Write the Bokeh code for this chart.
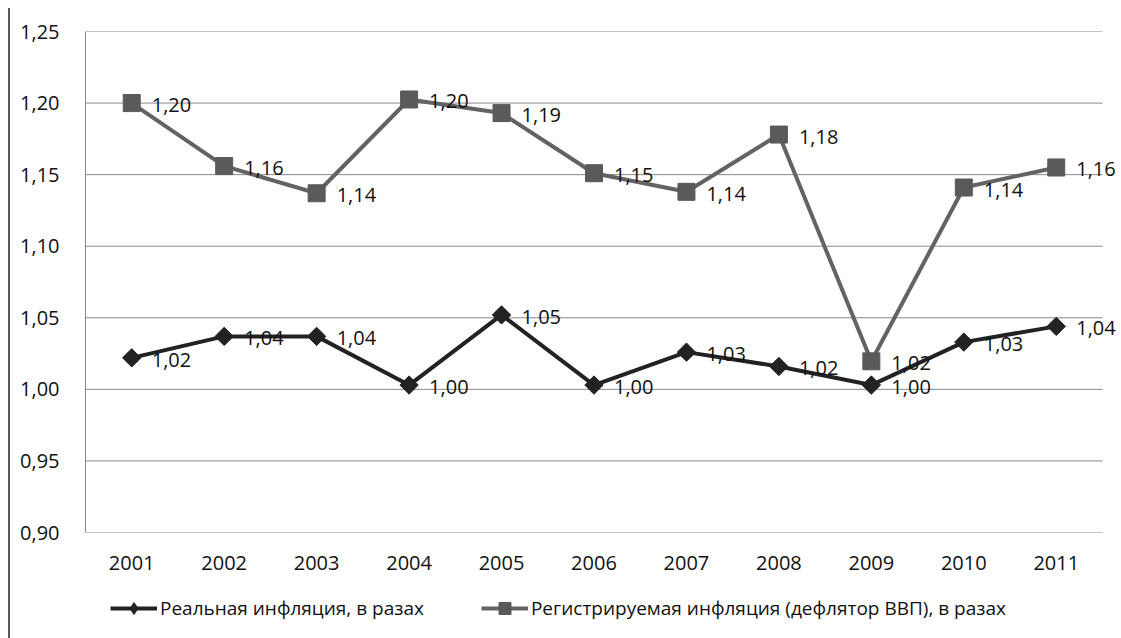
from bokeh.plotting import figure
from bokeh.layouts import column
from bokeh.models import (Range1d, FixedTicker, CustomJSTickFormatter,
                          Legend, LegendItem, ColumnDataSource, LabelSet)
from bokeh.core.properties import value
from bokeh.embed import file_html
from bokeh.resources import INLINE
import math

years = ["2001", "2002", "2003", "2004", "2005", "2006", "2007", "2008", "2009", "2010", "2011"]
real_inflation = [1.022, 1.037, 1.037, 1.003, 1.052, 1.003, 1.026, 1.016, 1.003, 1.033, 1.044]
registered_inflation = [1.200, 1.156, 1.137, 1.2025, 1.193, 1.151, 1.138, 1.178, 1.0196, 1.141, 1.155]
y_ticks = [0.90, 0.95, 1.00, 1.05, 1.10, 1.15, 1.20, 1.25]
series_names = ["Реальная инфляция, в разах", "Регистрируемая инфляция (дефлятор ВВП), в разах"]

FONT = "Open Sans"
GRID = "#888888"
REAL_C = "#222222"
REG_LINE = "#636363"
REG_MARK = "#5a5a5a"

def fmt(v):
    return ("%.2f" % v).replace(".", ",")

xs = list(range(len(years)))
src_real = ColumnDataSource(dict(x=xs, y=real_inflation, lbl=[fmt(v) for v in real_inflation]))
src_reg = ColumnDataSource(dict(x=xs, y=registered_inflation, lbl=[fmt(v) for v in registered_inflation]))

x_lo, x_hi = -0.5, len(years) - 0.5
p = figure(width=1109, height=574, x_range=Range1d(x_lo, x_hi + 0.184),
           y_range=Range1d(y_ticks[0], y_ticks[-1]),
           output_backend="svg", toolbar_location=None,
           min_border_left=75, min_border_right=0, min_border_top=23, min_border_bottom=50)
p.outline_line_color = None
p.background_fill_color = "white"
p.border_fill_color = "white"

p.yaxis.ticker = FixedTicker(ticks=y_ticks)
p.yaxis.formatter = CustomJSTickFormatter(code="return tick.toFixed(2).replace('.', ',');")
p.xaxis.ticker = FixedTicker(ticks=xs)
p.xaxis.major_label_overrides = {i: y for i, y in zip(xs, years)}
for ax in (p.xaxis, p.yaxis):
    ax.major_tick_line_color = None
    ax.minor_tick_line_color = None
    ax.axis_line_color = GRID
    ax.axis_line_width = 1
    ax.major_label_text_font = FONT
    ax.major_label_text_font_size = "20px"
    ax.major_label_text_color = "#111111"
p.xaxis.axis_line_color = None
p.yaxis.major_label_standoff = 20
p.xaxis.major_label_standoff = 17
p.xgrid.grid_line_color = None
p.ygrid.grid_line_color = None

# horizontal gridlines across the category area only
p.segment(x0=[x_lo] * len(y_ticks), x1=[x_hi] * len(y_ticks), y0=y_ticks, y1=y_ticks,
          line_color=GRID, line_width=1)

p.line("x", "y", source=src_real, line_color=REAL_C, line_width=4)
p.scatter("x", "y", source=src_real, marker="square", size=13, angle=math.pi / 4,
          fill_color=REAL_C, line_color=REAL_C)
p.line("x", "y", source=src_reg, line_color=REG_LINE, line_width=4)
p.scatter("x", "y", source=src_reg, marker="square", size=17,
          fill_color=REG_MARK, line_color=REG_MARK)

for src in (src_real, src_reg):
    p.add_layout(LabelSet(x="x", y="y", text="lbl", source=src, x_offset=20, y_offset=-2,
                          text_baseline="middle", text_align="left",
                          text_font=value(FONT), text_font_size="20px", text_color="#111111"))

# legend strip below the chart (proxy renderers sit outside the strip's visible range)
lg = figure(width=1109, height=56, x_range=Range1d(0, 1), y_range=Range1d(0, 1),
            output_backend="svg", toolbar_location=None, x_axis_type=None, y_axis_type=None,
            min_border_left=0, min_border_right=0, min_border_top=0, min_border_bottom=0)
lg.outline_line_color = None
lg.xgrid.grid_line_color = None
lg.ygrid.grid_line_color = None
proxy = ColumnDataSource(dict(x=[-5], y=[-5]))
d_real_l = lg.line("x", "y", source=proxy, line_color=REAL_C, line_width=4)
d_real_m = lg.scatter("x", "y", source=proxy, marker="diamond", size=13, fill_color=REAL_C, line_color=REAL_C)
d_reg_l = lg.line("x", "y", source=proxy, line_color=REG_LINE, line_width=4)
d_reg_m = lg.scatter("x", "y", source=proxy, marker="square", size=12, fill_color=REG_MARK, line_color=REG_MARK)

legend = Legend(items=[LegendItem(label=series_names[0], renderers=[d_real_l, d_real_m]),
                       LegendItem(label=series_names[1], renderers=[d_reg_l, d_reg_m])],
                location=(25, 15), orientation="horizontal")
legend.glyph_width = 47
legend.glyph_height = 30
legend.label_standoff = 3
legend.spacing = 57
legend.padding = 0
legend.margin = 0
legend.border_line_color = None
legend.background_fill_alpha = 0
legend.label_text_font = FONT
legend.label_text_font_size = "19px"
legend.label_text_color = "#111111"
lg.add_layout(legend)

layout = column(p, lg, spacing=0,
                styles={"border-left": "2px solid #5a5a5a", "margin-left": "8px", "margin-top": "8px"})

open("out.html", "w").write(file_html(layout, INLINE))
